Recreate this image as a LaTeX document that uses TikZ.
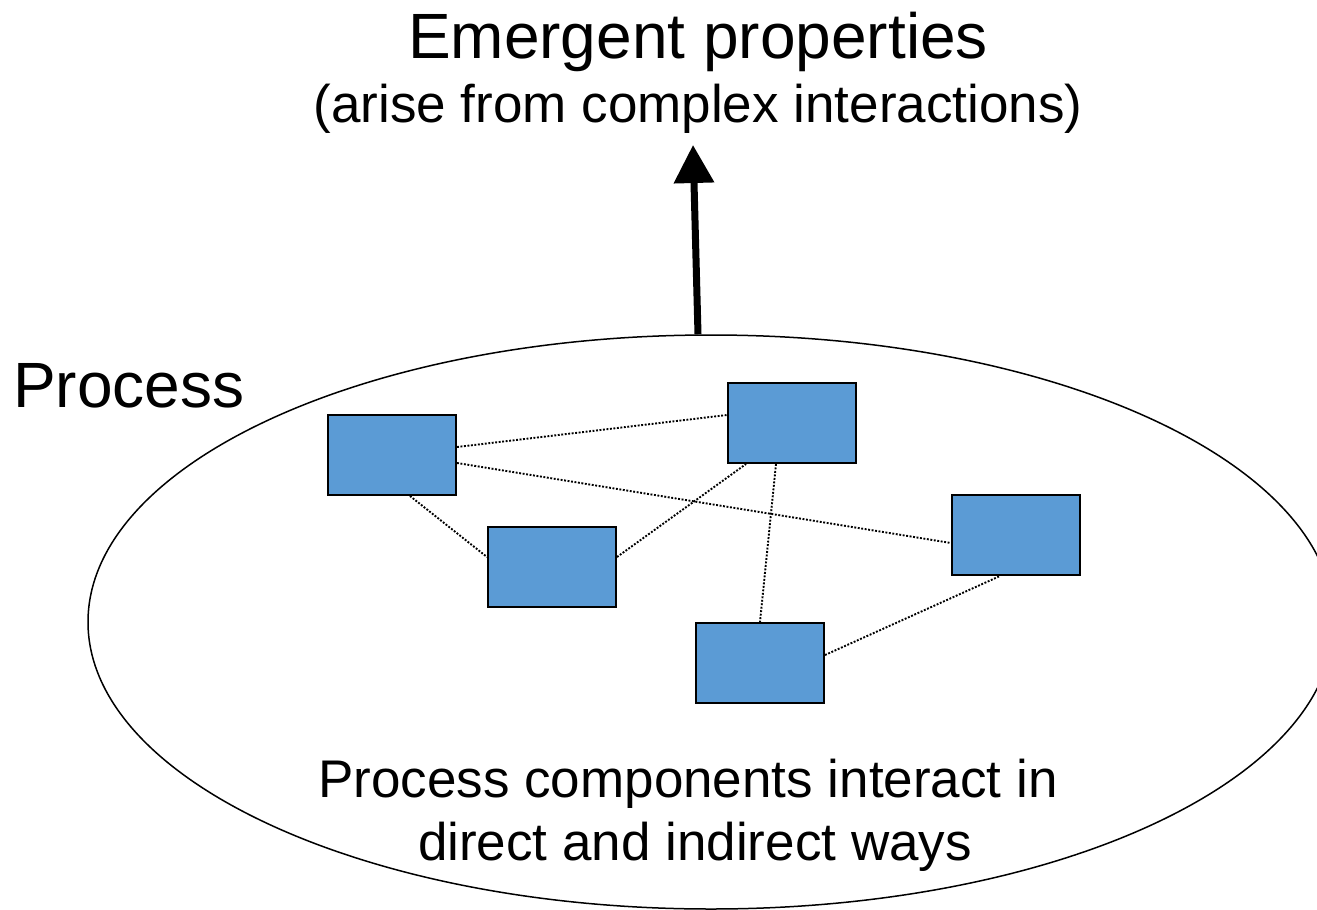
\documentclass[tikz,border=0pt]{standalone}
\usepackage{fontspec}
\setmainfont{Liberation Sans}
\usetikzlibrary{shapes.geometric,arrows.meta}
\definecolor{compblue}{HTML}{5B9BD5}
\tikzset{
  comp/.style={draw=black, line width=2pt, fill=compblue, minimum width=128pt, minimum height=80pt, inner sep=0pt},
  link/.style={line width=1.9pt, dash pattern=on 1.9pt off 1.6pt, line cap=butt},
  bigtext/.style={font=\fontsize{64}{72}\selectfont, inner sep=0pt, anchor=base},
  midtext/.style={font=\fontsize{53}{62}\selectfont, inner sep=0pt, anchor=base},
}
\begin{document}
\begin{tikzpicture}[x=1pt, y=-1pt]
  \useasboundingbox (0,0) rectangle (1317,910);

  % the process
  \node[draw, ellipse, line width=1.5pt, minimum width=1246pt, minimum height=574pt, inner sep=0pt] (proc) at (711,622) {};

  % components
  \node[comp] (A) at (392,455) {};
  \node[comp] (B) at (792,423) {};
  \node[comp] (C) at (552,567) {};
  \node[comp] (D) at (1016,535) {};
  \node[comp] (E) at (760,663) {};

  % interactions
  \draw[link] ([yshift=8pt]A.east) -- ([yshift=8pt]B.west);
  \draw[link] ([yshift=-8pt]A.east) -- ([yshift=-8pt]D.west);
  \draw[link] ([xshift=18pt]A.south) -- ([yshift=10pt]C.west);
  \draw[link] ([yshift=10pt]C.east) -- ([xshift=-46pt]B.south);
  \draw[link] ([xshift=-16pt]B.south) -- (E.north);
  \draw[link] ([yshift=8pt]E.east) -- ([xshift=-16pt]D.south);

  % emergence arrow
  \coordinate (tip) at (693,145);
  \draw[line width=7pt, -{Triangle[length=38pt, width=39pt]}] ([xshift=-13pt]proc.north) -- (tip);

  % labels
  \node[bigtext] (title) at (698,58) {Emergent properties};
  \node[midtext] (sub) at (698,122) {(arise from complex interactions)};
  \node[bigtext, anchor=base west] (plabel) at (13,407) {Process};
  \node[midtext] (desc1) at (688,797) {Process components interact in};
  \node[midtext] (desc2) at (695,860) {direct and indirect ways};
\end{tikzpicture}
\end{document}
